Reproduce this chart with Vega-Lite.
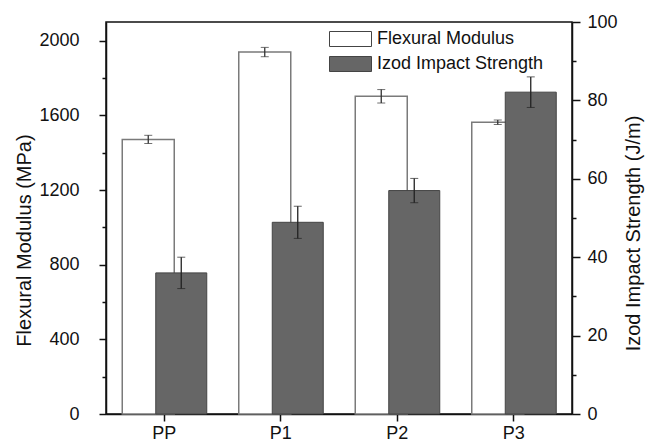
{
  "$schema": "https://vega.github.io/schema/vega-lite/v6.json",
  "width": 466,
  "height": 392,
  "autosize": {"type": "none"},
  "padding": {"left": 106, "top": 22, "right": 74, "bottom": 30},
  "background": "white",
  "config": {
    "font": "Liberation Sans",
    "view": {"stroke": "#111111", "strokeWidth": 1.5},
    "axis": {
      "grid": false,
      "domainColor": "#111111",
      "domainWidth": 1.5,
      "tickColor": "#111111",
      "tickWidth": 1.5,
      "labelColor": "#111111",
      "labelFontSize": 18,
      "titleColor": "#111111",
      "titleFontSize": 20,
      "titleFontWeight": "normal"
    }
  },
  "datasets": {
    "flex": [
      {"cat": "PP", "series": "Flexural Modulus", "value": 1471, "err": 22},
      {"cat": "P1", "series": "Flexural Modulus", "value": 1939, "err": 25},
      {"cat": "P2", "series": "Flexural Modulus", "value": 1702, "err": 36},
      {"cat": "P3", "series": "Flexural Modulus", "value": 1563, "err": 12}
    ],
    "izod": [
      {"cat": "PP", "series": "Izod Impact Strength", "value": 36, "err": 4},
      {"cat": "P1", "series": "Izod Impact Strength", "value": 48.9, "err": 4.1},
      {"cat": "P2", "series": "Izod Impact Strength", "value": 57, "err": 3.1},
      {"cat": "P3", "series": "Izod Impact Strength", "value": 82.1, "err": 3.9}
    ]
  },
  "encoding": {
    "x": {
      "field": "cat",
      "type": "nominal",
      "sort": ["PP", "P1", "P2", "P3"],
      "scale": {"paddingInner": 0, "paddingOuter": 0},
      "axis": {"title": null, "labelAngle": 0, "tickSize": 7, "labelPadding": 3, "domain": true}
    }
  },
  "layer": [
    {
      "data": {"name": "flex"},
      "encoding": {
        "y": {
          "field": "value",
          "type": "quantitative",
          "scale": {"domain": [0, 2100], "nice": false, "zero": true},
          "axis": {
            "title": "Flexural Modulus (MPa)",
            "orient": "left",
            "values": [0, 200, 400, 600, 800, 1000, 1200, 1400, 1600, 1800, 2000],
            "format": "d",
            "labelExpr": "datum.value % 400 === 0 ? datum.label : ''",
            "tickSize": {"condition": {"test": "datum.value % 400 === 0", "value": 7}, "value": 4},
            "labelPadding": 20,
            "titleAngle": 270,
            "titleBaseline": "middle",
            "titleX": -82,
            "titleY": 218
          }
        }
      },
      "layer": [
        {
          "mark": {"type": "bar", "width": 52, "xOffset": -16, "stroke": "#7a7a7a", "strokeWidth": 1.5},
          "encoding": {
            "fill": {
              "field": "series",
              "type": "nominal",
              "scale": {"domain": ["Flexural Modulus", "Izod Impact Strength"], "range": ["#ffffff", "#666666"]},
              "legend": {
                "title": null,
                "orient": "none",
                "legendX": 235.5,
                "legendY": 8,
                "padding": 0,
                "symbolType": "M-2.8,-1H2.8V1H-2.8Z",
                "symbolSize": 225,
                "symbolStrokeColor": "#555555",
                "symbolStrokeWidth": 1,
                "symbolOpacity": 1,
                "labelFontSize": 18,
                "labelColor": "#111111",
                "labelOffset": 17.5,
                "labelLimit": 0,
                "rowPadding": 5
              }
            }
          }
        },
        {
          "mark": {"type": "errorbar", "color": "#333333", "ticks": {"size": 8, "xOffset": -16, "strokeWidth": 1.3}, "rule": {"xOffset": -16, "strokeWidth": 1.3}},
          "encoding": {"yError": {"field": "err"}}
        }
      ]
    },
    {
      "data": {"name": "izod"},
      "encoding": {
        "y": {
          "field": "value",
          "type": "quantitative",
          "scale": {"domain": [0, 100], "nice": false, "zero": true},
          "axis": {
            "title": "Izod Impact Strength (J/m)",
            "orient": "right",
            "values": [0, 10, 20, 30, 40, 50, 60, 70, 80, 90, 100],
            "labelExpr": "datum.value % 20 === 0 ? datum.label : ''",
            "tickSize": {"condition": {"test": "datum.value % 20 === 0", "value": 8}, "value": 4},
            "labelPadding": 7,
            "titleAngle": 270,
            "titleBaseline": "middle",
            "titleX": 61,
            "titleY": 211
          }
        }
      },
      "layer": [
        {
          "mark": {"type": "bar", "width": 51, "xOffset": 17, "stroke": "#444444", "strokeWidth": 1},
          "encoding": {
            "fill": {"field": "series", "type": "nominal"}
          }
        },
        {
          "mark": {"type": "errorbar", "color": "#222222", "ticks": {"size": 8, "xOffset": 17, "strokeWidth": 1.3}, "rule": {"xOffset": 17, "strokeWidth": 1.3}},
          "encoding": {"yError": {"field": "err"}}
        }
      ]
    }
  ],
  "resolve": {"scale": {"y": "independent"}}
}
